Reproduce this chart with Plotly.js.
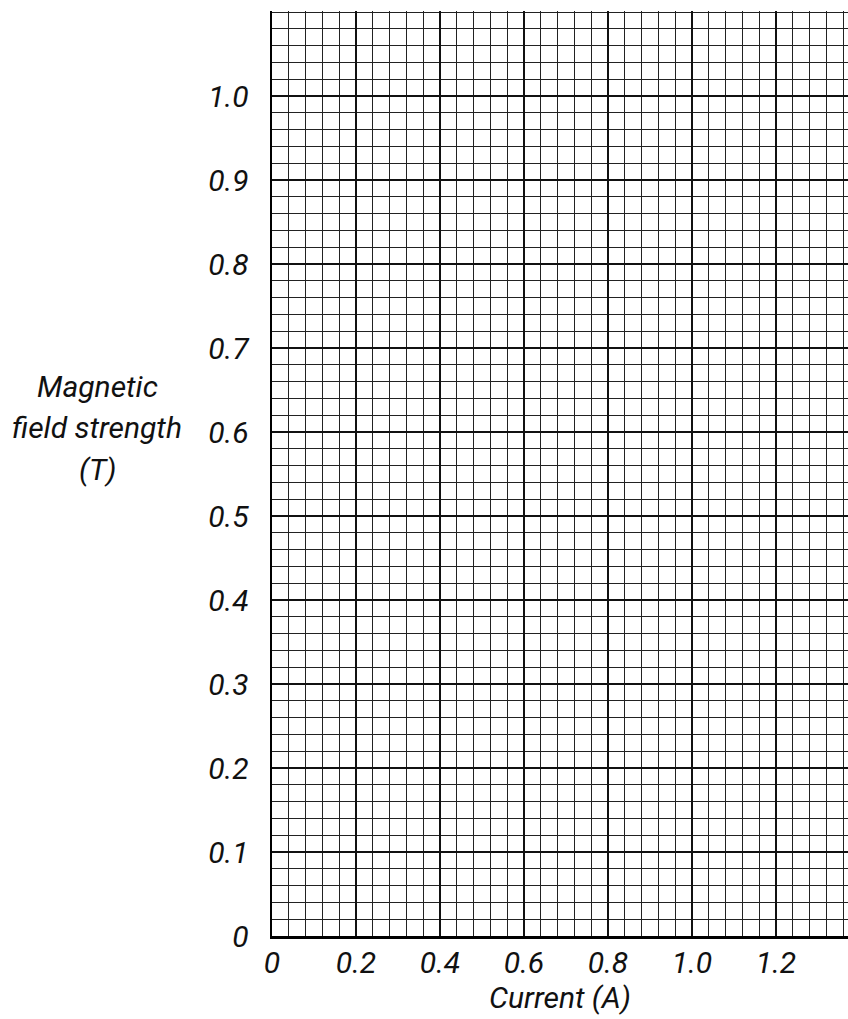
<!DOCTYPE html>
<html>
<head>
<meta charset="utf-8">
<script src="https://cdn.plot.ly/plotly-3.0.1.min.js"></script>
<style>
html,body{margin:0;padding:0;background:#fff;}
#chart{width:848px;height:1019px;}
</style>
</head>
<body>
<div id="chart"></div>
<script>
// Axis tick values and labels
const xTickVals = [0, 0.2, 0.4, 0.6, 0.8, 1.0, 1.2];
const xTickText = ["0", "0.2", "0.4", "0.6", "0.8", "1.0", "1.2"];
const yTickVals = [0, 0.1, 0.2, 0.3, 0.4, 0.5, 0.6, 0.7, 0.8, 0.9, 1.0];
const yTickText = ["0", "0.1", "0.2", "0.3", "0.4", "0.5", "0.6", "0.7", "0.8", "0.9", "1.0"];
const xRange = [0, 1.3714];
const yRange = [0, 1.1012];
const xTitle = "Current (A)";
const yTitleLines = ["Magnetic", "field strength", "(T)"];

const FONT = "Roboto, 'Open Sans', sans-serif";
const FS = 30;
const W = 848, H = 1019;
const margin = {l: 272, r: 0, t: 11, b: 83};
const plotH = H - margin.t - margin.b;
const plotW = W - margin.l - margin.r;

const lineGap = 41; // px between title lines
const titleCenterPx = 428; // from top
const annotations = yTitleLines.map((txt, i) => {
  const yPx = titleCenterPx + (i - (yTitleLines.length - 1) / 2) * lineGap;
  return {
    text: "<i>" + txt + "</i>",
    xref: "paper", yref: "paper",
    x: (97 - margin.l) / plotW,
    y: (H - margin.b - yPx) / plotH,
    xanchor: "center", yanchor: "middle",
    showarrow: false,
    font: {family: FONT, size: FS, color: "#111"}
  };
});

const data = [{
  x: [], y: [], type: "scatter", mode: "lines", hoverinfo: "skip", showlegend: false
}];

const layout = {
  width: W, height: H,
  margin: margin,
  paper_bgcolor: "#fff",
  plot_bgcolor: "#fff",
  showlegend: false,
  font: {family: FONT, color: "#111"},
  xaxis: {
    range: xRange,
    tickmode: "array",
    tickvals: xTickVals,
    ticktext: xTickText,
    showgrid: true,
    gridcolor: "#111",
    gridwidth: 2,
    minor: {dtick: 0.04, showgrid: true, gridcolor: "#222", gridwidth: 1, ticks: ""},
    showline: true,
    linecolor: "#000",
    linewidth: 2.5,
    zeroline: false,
    ticks: "",
    ticklabelstandoff: -2,
    tickfont: {family: FONT, size: FS, color: "#111", style: "italic"},
    title: {text: xTitle, font: {family: FONT, size: FS, color: "#111", style: "italic"}, standoff: 0},
    fixedrange: true
  },
  yaxis: {
    range: yRange,
    tickmode: "array",
    tickvals: yTickVals,
    ticktext: yTickText,
    showgrid: true,
    gridcolor: "#111",
    gridwidth: 2,
    minor: {dtick: 0.02, showgrid: true, gridcolor: "#222", gridwidth: 1, ticks: ""},
    showline: true,
    linecolor: "#000",
    linewidth: 2.5,
    zeroline: false,
    ticks: "",
    ticklabelstandoff: 15,
    tickfont: {family: FONT, size: FS, color: "#111", style: "italic"},
    fixedrange: true
  },
  annotations: annotations
};

Plotly.newPlot("chart", data, layout, {displayModeBar: false, staticPlot: true});
</script>
</body>
</html>
